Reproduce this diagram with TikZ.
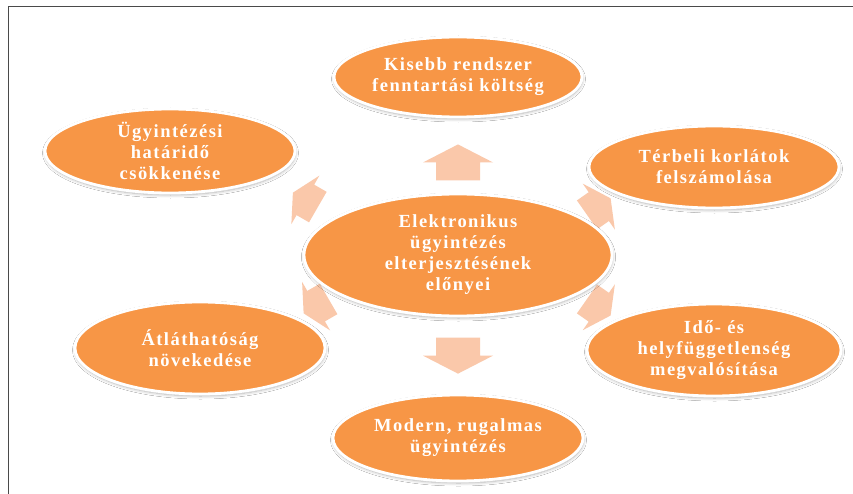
\documentclass[tikz,border=0pt]{standalone}
\usepackage{fontspec}
\setmainfont{Liberation Serif}[LetterSpace=8]
\usetikzlibrary{shapes.geometric,shadows.blur,calc}
\definecolor{orng}{HTML}{F79646}
\definecolor{peach}{HTML}{FAC8AA}
\definecolor{framec}{HTML}{4A4A4A}
\tikzset{
  bubble/.style={ellipse, fill=orng, draw=white, line width=2.8pt, inner sep=0pt,
    text=white, align=center, font=\bfseries\fontsize{18.5}{21}\selectfont,
    blur shadow={shadow xshift=0.5pt, shadow yshift=-2pt, shadow blur radius=3pt, shadow blur steps=8, shadow opacity=30}},
  blockarrow/.pic={\fill[peach] (-18,-22) -- (0,-22) -- (0,-35) -- (18,0) -- (0,35) -- (0,22) -- (-18,22) -- cycle;}
}
\begin{document}
\begin{tikzpicture}[x=1pt,y=-1pt]
\useasboundingbox (0,0) rectangle (853,494);
\fill[white] (0,0) rectangle (853,494);
\draw[framec, line width=1.6pt] (8.5,494) -- (8.5,6.5) -- (853,6.5);
% node positions
\coordinate (pc) at (458,255);
\coordinate (pt) at (458,77);
\coordinate (pul) at (170,151);
\coordinate (pur) at (714,167);
\coordinate (pll) at (200,348);
\coordinate (plr) at (714,350);
\coordinate (pb) at (458,438);
% arrows (behind the bubbles)
\pic[rotate=90] at ($(pc)!0.52!(pt)$) {blockarrow};
\pic[rotate=-90] at ($(pc)!0.55!(pb)$) {blockarrow};
\pic[rotate=150, scale=0.8] at ($(pc)!0.53!(pul)$) {blockarrow};
\pic[rotate=35, scale=0.8] at ($(pc)!0.55!(pur)$) {blockarrow};
\pic[rotate=210, scale=0.8] at ($(pc)!0.55!(pll)$) {blockarrow};
\pic[rotate=-35, scale=0.8] at ($(pc)!0.55!(plr)$) {blockarrow};
% bubbles
\node[bubble, minimum width=308pt, minimum height=122pt] (c) at (pc) {Elektronikus\\ügyintézés\\elterjesztésének\\előnyei};
\node[bubble, minimum width=248pt, minimum height=80pt] (t) at (pt) {Kisebb rendszer\\fenntartási költség};
\node[bubble, minimum width=250pt, minimum height=84pt] (ul) at (pul) {Ügyintézési\\határidő\\csökkenése};
\node[bubble, minimum width=250pt, minimum height=82pt] (ur) at (pur) {Térbeli korlátok\\felszámolása};
\node[bubble, minimum width=250pt, minimum height=92pt] (ll) at (pll) {Átláthatóság\\növekedése};
\node[bubble, minimum width=254pt, minimum height=92pt] (lr) at (plr) {Idő- és\\helyfüggetlenség\\megvalósítása};
\node[bubble, minimum width=250pt, minimum height=86pt] (b) at (pb) {Modern, rugalmas\\ügyintézés};
\end{tikzpicture}
\end{document}
